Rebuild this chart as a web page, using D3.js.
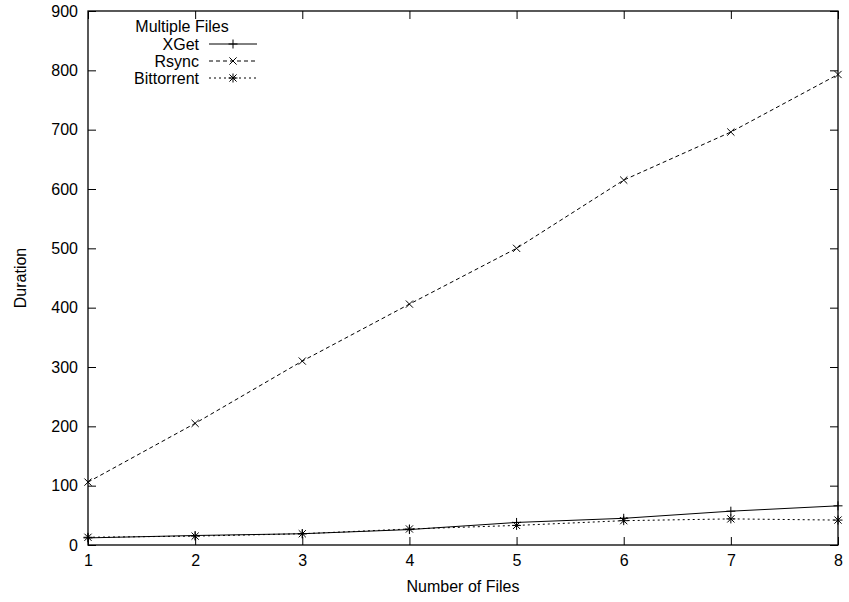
<!DOCTYPE html>
<html>
<head>
<meta charset="utf-8">
<script src="https://cdn.jsdelivr.net/npm/d3@7"></script>
<style>
  body { margin: 0; background: #fff; }
  text { font-family: "Liberation Sans", Arial, sans-serif; font-size: 16px; fill: #000; }
</style>
</head>
<body>
<svg id="chart" width="849" height="602"></svg>
<script>
const files = [1, 2, 3, 4, 5, 6, 7, 8];
const xget = [12, 16, 19, 26, 38, 45, 57, 66];
const rsync = [106, 205, 310, 406, 500, 615, 696, 793];
const bittorrent = [13, 15, 19, 27, 33, 41, 44, 42];
const yTicks = [0, 100, 200, 300, 400, 500, 600, 700, 800, 900];

const svg = d3.select('#chart');
const margin = {top: 11, right: 11, bottom: 57, left: 88};
const width = 849 - margin.left - margin.right;
const height = 602 - margin.top - margin.bottom;

const x = d3.scaleLinear().domain([1, 8]).range([0, width]);
const y = d3.scaleLinear().domain([0, 900]).range([height, 0]);

const g = svg.append('g').attr('transform', `translate(${margin.left},${margin.top})`);

const tickLen = 8;

// ticks, drawn inward on all four sides
const xAxis = g.append('g').attr('transform', `translate(0,${height})`)
    .call(d3.axisBottom(x).tickValues(files).tickFormat(d3.format('d')).tickSizeInner(-tickLen).tickSizeOuter(0).tickPadding(10));
const xTop = g.append('g')
    .call(d3.axisTop(x).tickValues(files).tickFormat('').tickSizeInner(-tickLen).tickSizeOuter(0));
const yAxis = g.append('g')
    .call(d3.axisLeft(y).tickValues(yTicks).tickFormat(d3.format('d')).tickSizeInner(-tickLen).tickSizeOuter(0).tickPadding(10));
const yRight = g.append('g').attr('transform', `translate(${width},0)`)
    .call(d3.axisRight(y).tickValues(yTicks).tickFormat('').tickSizeInner(-tickLen).tickSizeOuter(0));

[xAxis, xTop, yAxis, yRight].forEach(a => {
    a.select('.domain').remove();
    a.selectAll('line').attr('stroke', '#000');
    a.selectAll('text').style('font-size', '16px').style('font-family', '"Liberation Sans", Arial, sans-serif');
});

g.append('rect')
    .attr('width', width)
    .attr('height', height)
    .attr('fill', 'none')
    .attr('stroke', '#000')
    .attr('stroke-width', 1.3);

const series = [
    {name: 'XGet', values: xget, dash: null, marker: 'plus'},
    {name: 'Rsync', values: rsync, dash: '4,3', marker: 'cross'},
    {name: 'Bittorrent', values: bittorrent, dash: '2,3', marker: 'star'}
];

const line = d3.line().x((d, i) => x(files[i])).y(d => y(d));

function drawMarker(sel, type, cx, cy) {
    const s = 4.5;
    const p = d3.path();
    if (type === 'plus' || type === 'star') {
        p.moveTo(cx - s, cy); p.lineTo(cx + s, cy);
        p.moveTo(cx, cy - s); p.lineTo(cx, cy + s);
    }
    if (type === 'cross' || type === 'star') {
        const t = s * 0.8;
        p.moveTo(cx - t, cy - t); p.lineTo(cx + t, cy + t);
        p.moveTo(cx - t, cy + t); p.lineTo(cx + t, cy - t);
    }
    sel.append('path').attr('d', p.toString()).attr('stroke', '#000').attr('stroke-width', 1).attr('fill', 'none');
}

series.forEach(s => {
    g.append('path')
        .datum(s.values)
        .attr('d', line)
        .attr('fill', 'none')
        .attr('stroke', '#000')
        .attr('stroke-width', 1)
        .attr('stroke-dasharray', s.dash);
    const mg = g.append('g');
    s.values.forEach((v, i) => drawMarker(mg, s.marker, x(files[i]), y(v)));
});

// legend
const legend = svg.append('g');
legend.append('text')
    .attr('x', 182).attr('y', 32)
    .attr('text-anchor', 'middle')
    .text('Multiple Files');
series.forEach((s, i) => {
    const ly = 44 + i * 17;
    legend.append('text')
        .attr('x', 199).attr('y', ly + 6)
        .attr('text-anchor', 'end')
        .text(s.name);
    legend.append('line')
        .attr('x1', 209).attr('x2', 257)
        .attr('y1', ly).attr('y2', ly)
        .attr('stroke', '#000')
        .attr('stroke-dasharray', s.dash);
    drawMarker(legend, s.marker, 233, ly);
});

// axis titles
svg.append('text')
    .attr('x', margin.left + width / 2)
    .attr('y', 592)
    .attr('text-anchor', 'middle')
    .text('Number of Files');
svg.append('text')
    .attr('transform', `translate(26,${margin.top + height / 2}) rotate(-90)`)
    .attr('text-anchor', 'middle')
    .text('Duration');
</script>
</body>
</html>
